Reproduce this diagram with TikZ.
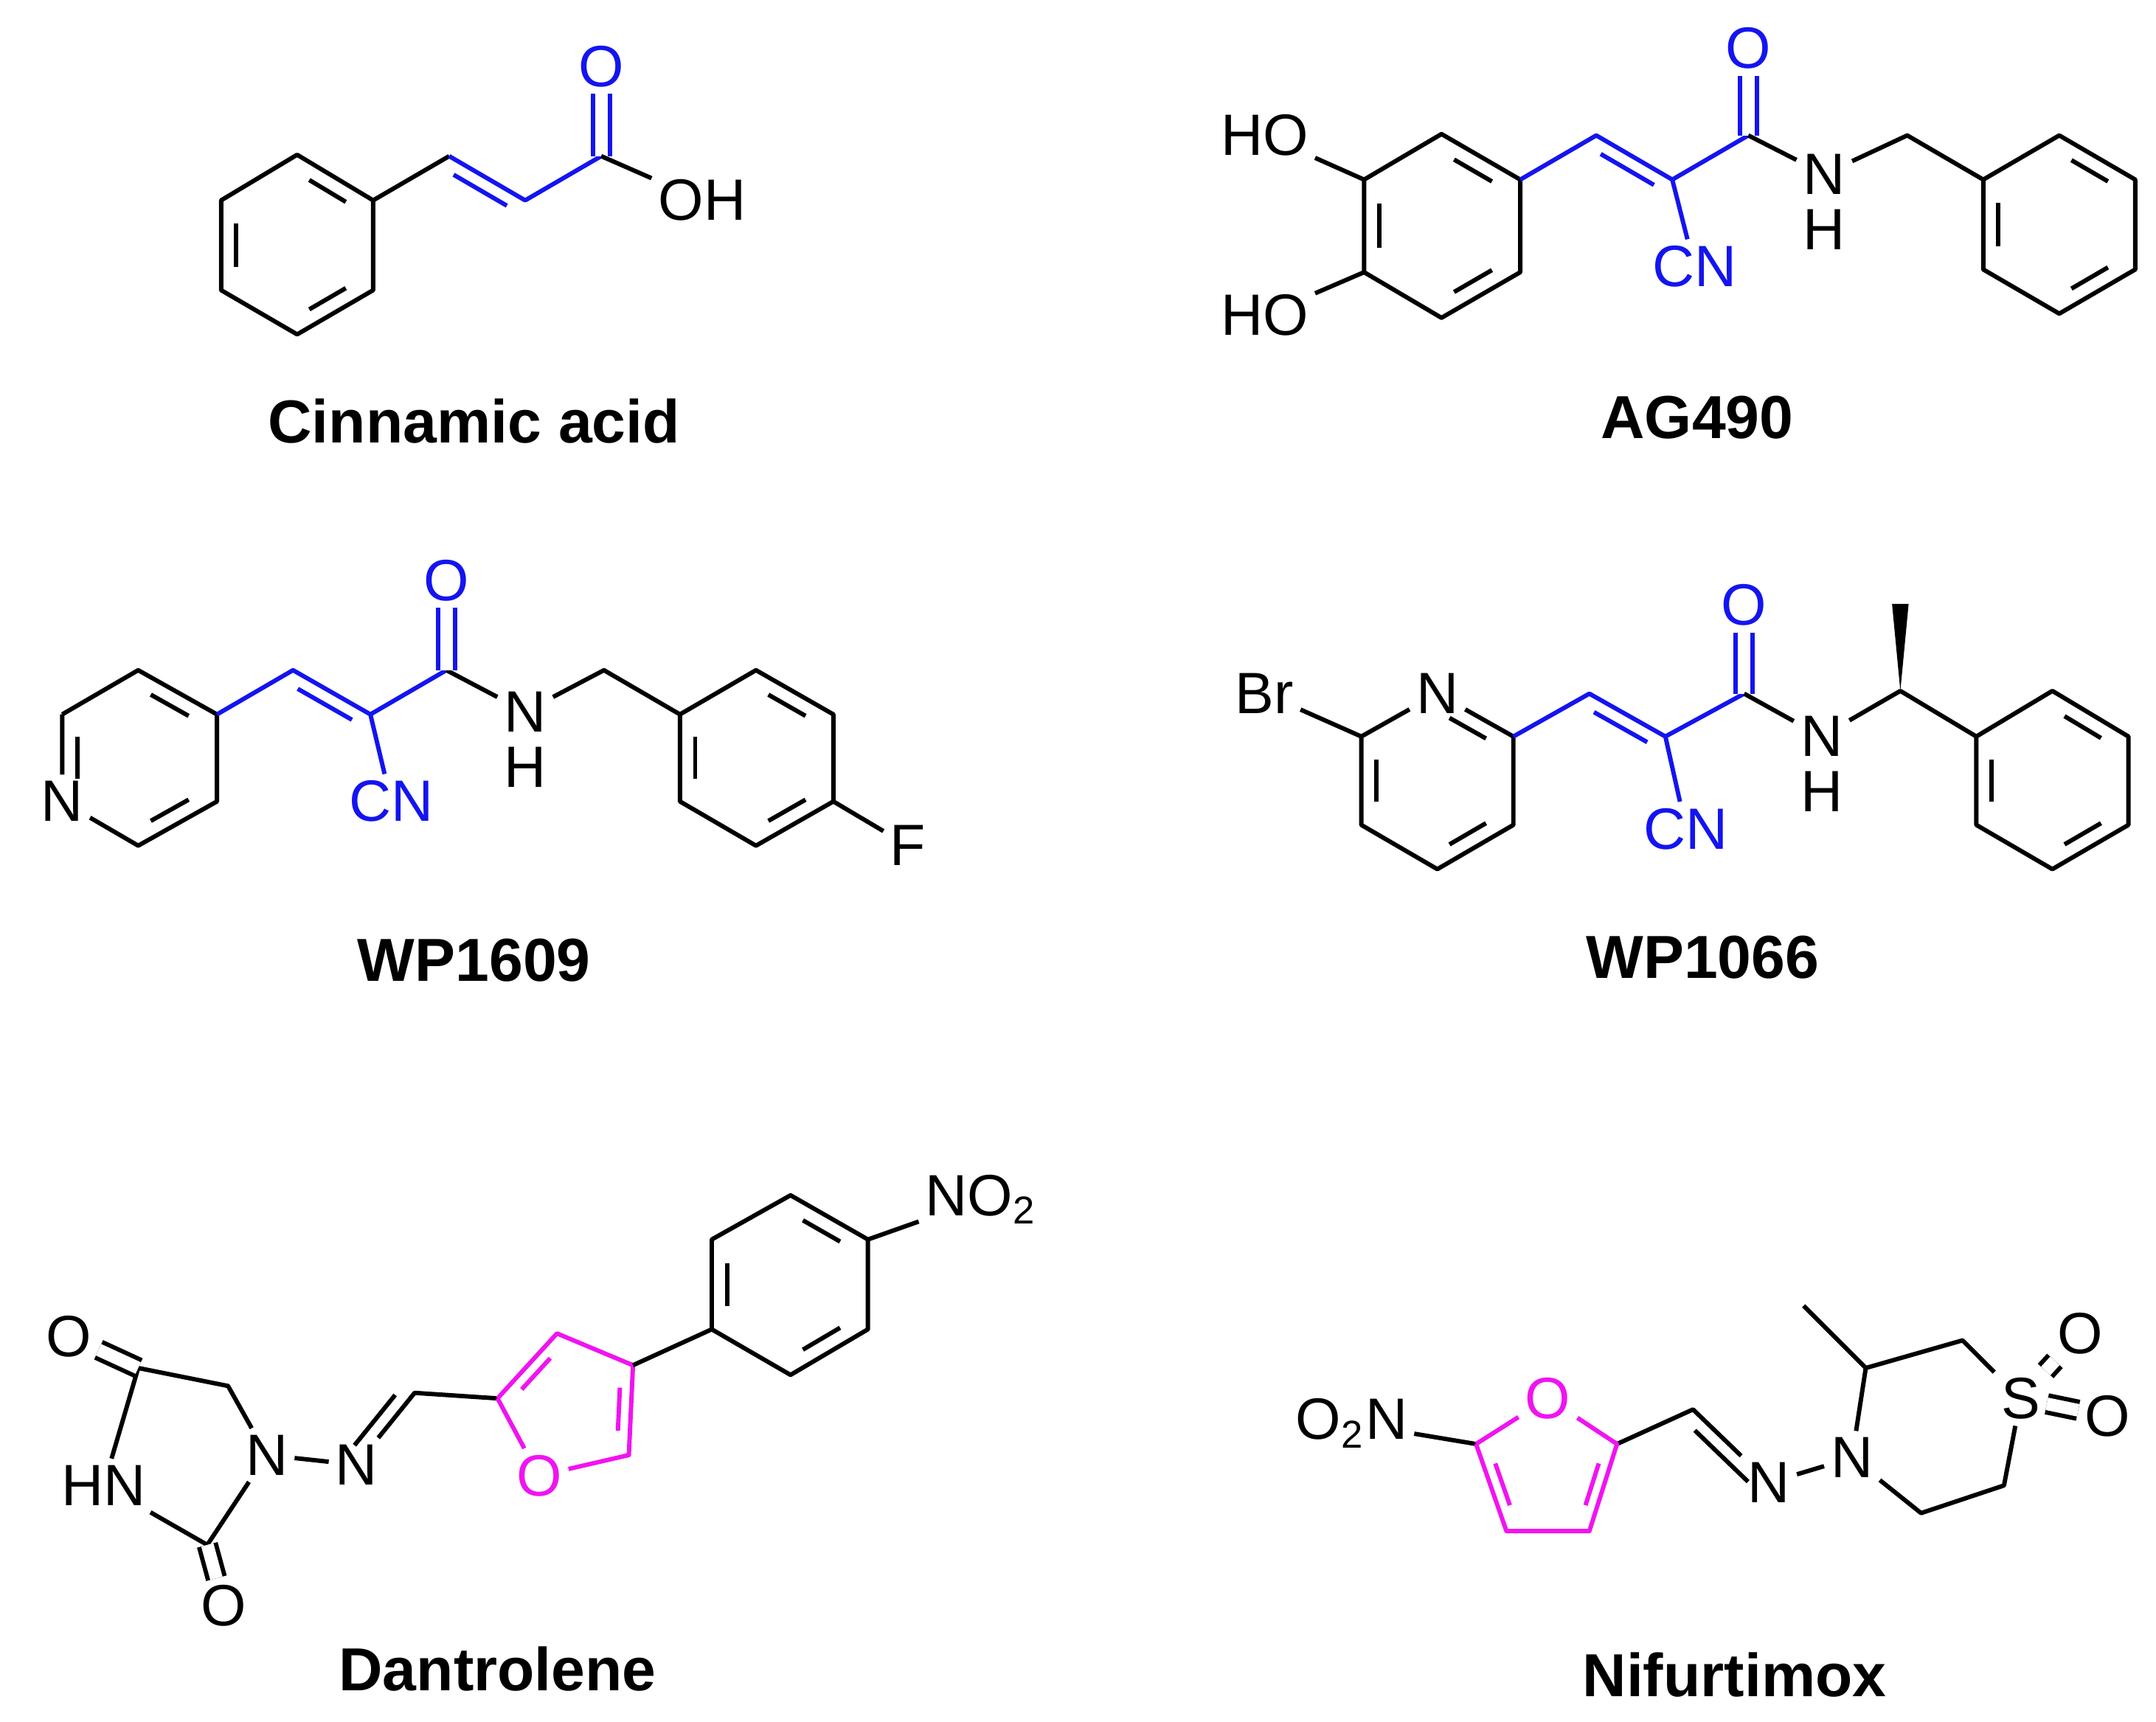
\documentclass[tikz,border=0pt]{standalone}
\usepackage{fontspec}
\setmainfont{Liberation Sans}
\usetikzlibrary{calc}
\definecolor{cb}{RGB}{20,20,240}
\definecolor{mag}{RGB}{240,20,240}
\tikzset{
 bd/.style={line width=0.9pt},
 atom/.style={inner sep=1.2pt, font=\fontsize{12}{14}\selectfont},
 lbl/.style={font=\fontsize{12.5}{15}\selectfont\bfseries},
 dbl/.style={double distance=2.6pt, line width=0.9pt}
}
\newcommand\inl[4][]{\path ($(#2)!0.2!(#3)$) coordinate (i1) ($(#2)!0.8!(#3)$) coordinate (i2);
 \draw[bd,#1] ($(i1)!0.2!(#4)$) -- ($(i2)!0.2!(#4)$);}
\newcommand\dbo[4][]{\path ($(#2)!0.15!(#3)$) coordinate (j1) ($(#2)!0.85!(#3)$) coordinate (j2);
 \draw[bd,#1] ($(j1)!#4!90:(j2)$) -- ($(j2)!#4!-90:(j1)$);}
\begin{document}
\begin{tikzpicture}[x=0.01cm,y=-0.01cm,line join=round]
\useasboundingbox (0,0) rectangle (1560,1246);
% ---------- Cinnamic acid
\foreach \n/\x/\y in {a1/215/112,a2/270/145,a3/270/210,a4/215/242,a5/160/210,a6/160/145,ac/215/177,c1/325/113,c2/380/145,c3/435/113}
  \coordinate (\n) at (\x,\y);
\node[atom,cb] (ca-O) at (435,48) {O};
\node[atom] (ca-OH) at (508,145) {OH};
\draw[bd] (a1)--(a2)--(a3)--(a4)--(a5)--(a6)--cycle;
\draw[bd] (a2)--(c1);
\inl{a6}{a5}{ac}\inl{a1}{a2}{ac}\inl{a3}{a4}{ac}
\draw[bd,cb] (c1)--(c2)--(c3);
\dbo[cb]{c1}{c2}{-0.1cm}
\draw[dbl,cb] (c3)--(ca-O);
\draw[bd] (c3)--(ca-OH);
\node[lbl] (l1) at (343,305) {Cinnamic acid};
% ---------- AG490
\foreach \n/\x/\y in {b1/1043/97,b2/1100/130,b3/1100/197,b4/1043/230,b5/987/197,b6/987/130,bc/1043/163,d1/1155/98,d2/1210/130,d3/1265/98,d4/1380/98,e1/1435/130,e2/1490/98,e3/1545/130,e4/1545/195,e5/1490/227,e6/1435/195,ec/1490/162}
  \coordinate (\n) at (\x,\y);
\node[atom] (ag-HO1) at (915,98) {HO};
\node[atom] (ag-HO2) at (915,228) {HO};
\node[atom,cb] (ag-O) at (1265,35) {O};
\node[atom,cb] (ag-CN) at (1226,193) {CN};
\node[atom] (ag-N) at (1320,126) {N};
\node[atom] (ag-H) at (1320,166) {H};
\draw[bd] (b1)--(b2)--(b3)--(b4)--(b5)--(b6)--cycle;
\draw[bd] (b6)--(ag-HO1) (b5)--(ag-HO2);
\inl{b6}{b5}{bc}\inl{b1}{b2}{bc}\inl{b3}{b4}{bc}
\draw[bd,cb] (b2)--(d1)--(d2)--(d3) (d2)--(ag-CN);
\dbo[cb]{d1}{d2}{-0.1cm}
\draw[dbl,cb] (d3)--(ag-O);
\draw[bd] (d3)--(ag-N)--(d4)--(e1);
\draw[bd] (e1)--(e2)--(e3)--(e4)--(e5)--(e6)--cycle;
\inl{e6}{e1}{ec}\inl{e2}{e3}{ec}\inl{e4}{e5}{ec}
\node[lbl] (l2) at (1228,302) {AG490};
% ---------- WP1609
\foreach \n/\x/\y in {p1/100/485,p2/157/517,p3/157/580,p4/100/612,p5/45/580,p6/45/517,pc/100/548,f1/212/485,f2/268/517,f3/323/485,f4/437/485,g1/492/517,g2/547/485,g3/603/517,g4/603/580,g5/547/612,g6/492/580,gc/547/548}
  \coordinate (\n) at (\x,\y);
\node[atom] (wp-N1) at (45,580) {N};
\node[atom,cb] (wp-O) at (323,420) {O};
\node[atom,cb] (wp-CN) at (283,580) {CN};
\node[atom] (wp-N) at (380,515) {N};
\node[atom] (wp-H) at (380,555) {H};
\node[atom] (wp-F) at (657,612) {F};
\draw[bd] (p6)--(p1)--(p2)--(p3)--(p4)--(wp-N1)--(p6);
\inl{p1}{p2}{pc}\inl{p3}{p4}{pc}\inl{p5}{p6}{pc}
\draw[bd,cb] (p2)--(f1)--(f2)--(f3) (f2)--(wp-CN);
\dbo[cb]{f1}{f2}{-0.1cm}
\draw[bd] (f3)--(wp-N)--(f4)--(g1);
\draw[dbl,cb] (f3)--(wp-O);
\draw[bd] (g1)--(g2)--(g3)--(g4)--(g5)--(g6)--cycle;
\draw[bd] (g4)--(wp-F);
\inl{g6}{g1}{gc}\inl{g2}{g3}{gc}\inl{g4}{g5}{gc}
\node[lbl] (l3) at (343,695) {WP1609};
% ---------- WP1066
\foreach \n/\x/\y in {h1/1040/502,h2/1095/533,h3/1095/597,h4/1040/629,h5/985/597,h6/985/533,hc/1040/565,k1/1150/502,k2/1205/533,k3/1262/502,k4/1375/500,m1/1430/533,m2/1485/500,m3/1540/533,m4/1540/597,m5/1485/629,m6/1430/597,mc/1485/565}
  \coordinate (\n) at (\x,\y);
\node[atom] (w6-Br) at (915,502) {Br};
\node[atom] (w6-N1) at (1040,502) {N};
\node[atom,cb] (w6-O) at (1262,438) {O};
\node[atom,cb] (w6-CN) at (1220,600) {CN};
\node[atom] (w6-N) at (1318,533) {N};
\node[atom] (w6-H) at (1318,573) {H};
\draw[bd] (w6-N1)--(h2)--(h3)--(h4)--(h5)--(h6)--(w6-N1);
\draw[bd] (h6)--(w6-Br);
\inl{h1}{h2}{hc}\inl{h3}{h4}{hc}\inl{h5}{h6}{hc}
\draw[bd,cb] (h2)--(k1)--(k2)--(k3) (k2)--(w6-CN);
\dbo[cb]{k1}{k2}{-0.1cm}
\draw[dbl,cb] (k3)--(w6-O);
\draw[bd] (k3)--(w6-N)--(k4)--(m1);
\draw[bd] (m1)--(m2)--(m3)--(m4)--(m5)--(m6)--cycle;
\fill (k4) -- ($(1375,437)+(-6,0)$) -- ($(1375,437)+(6,0)$) -- cycle;
\inl{m6}{m1}{mc}\inl{m2}{m3}{mc}\inl{m4}{m5}{mc}
\node[lbl] (l4) at (1232,693) {WP1066};
% ---------- Dantrolene
\foreach \n/\x/\y in {q4/100/990,q5/165/1003,q2/150/1118,r1/300/1008,s2/360/1012,s3/403/965,s4/458/988,s5/455/1053,sO/390/1068,sc/413/1017,t1/515/962,t2/515/897,t3/572/865,t4/628/897,t5/628/962,t6/572/995,tc/572/930}
  \coordinate (\n) at (\x,\y);
\node[atom] (da-O4) at (50,967) {O};
\node[atom] (da-O2) at (162,1162) {O};
\node[atom] (da-HN) at (75,1075) {HN};
\node[atom] (da-N1) at (193,1053) {N};
\node[atom] (da-N2) at (258,1060) {N};
\node[atom,mag] (da-O) at (390,1068) {O};
\node[atom] (da-NO2) at (710,868) {NO\textsubscript{2}};
\draw[bd] (da-HN)--(q4)--(q5)--(da-N1)--(q2)--(da-HN);
\draw[bd] (da-N1)--(da-N2);
\draw[dbl] (q4)--(da-O4);
\draw[dbl] (q2)--(da-O2);
\draw[bd] (da-N2)--(r1)--(s2);
\dbo{da-N2}{r1}{0.1cm}
\draw[bd,mag] (s2)--(s3)--(s4)--(s5)--(da-O)--(s2);
\inl[mag]{s2}{s3}{sc}\inl[mag]{s4}{s5}{sc}
\draw[bd] (s4)--(t1);
\draw[bd] (t1)--(t2)--(t3)--(t4)--(t5)--(t6)--cycle;
\draw[bd] (t4)--(da-NO2);
\inl{t1}{t2}{tc}\inl{t3}{t4}{tc}\inl{t5}{t6}{tc}
\node[lbl] (l5) at (360,1208) {Dantrolene};
% ---------- Nifurtimox
\foreach \n/\x/\y in {u5/1068/1045,u1/1120/1012,u2/1170/1045,u3/1150/1108,u4/1090/1108,uc/1120/1065,v1/1225/1020,w1/1350/990,wm/1305/945,w2/1420/970,w3/1450/1075,w4/1390/1095}
  \coordinate (\n) at (\x,\y);
\node[atom] (nf-NO2) at (978,1030) {O\textsubscript{2}N};
\node[atom,mag] (nf-O) at (1120,1012) {O};
\node[atom] (nf-N1) at (1280,1073) {N};
\node[atom] (nf-N2) at (1340,1055) {N};
\node[atom] (nf-S) at (1462,1012) {S};
\node[atom] (nf-Oa) at (1505,965) {O};
\node[atom] (nf-Ob) at (1525,1025) {O};
\draw[bd] (nf-NO2)--(u5);
\draw[bd] (u2)--(v1)--(nf-N1)--(nf-N2)--(w1)--(w2)--(nf-S)--(w3)--(w4)--(nf-N2);
\draw[bd] (w1)--(wm);
\dbo{v1}{nf-N1}{-0.1cm}
\draw[bd,mag] (u5)--(nf-O)--(u2)--(u3)--(u4)--(u5);
\inl[mag]{u5}{u4}{uc}\inl[mag]{u2}{u3}{uc}
\draw[dbl] (nf-S)--(nf-Oa);
\draw[dbl] (nf-S)--(nf-Ob);
\node[lbl] (l6) at (1255,1212) {Nifurtimox};
\end{tikzpicture}
\end{document}
